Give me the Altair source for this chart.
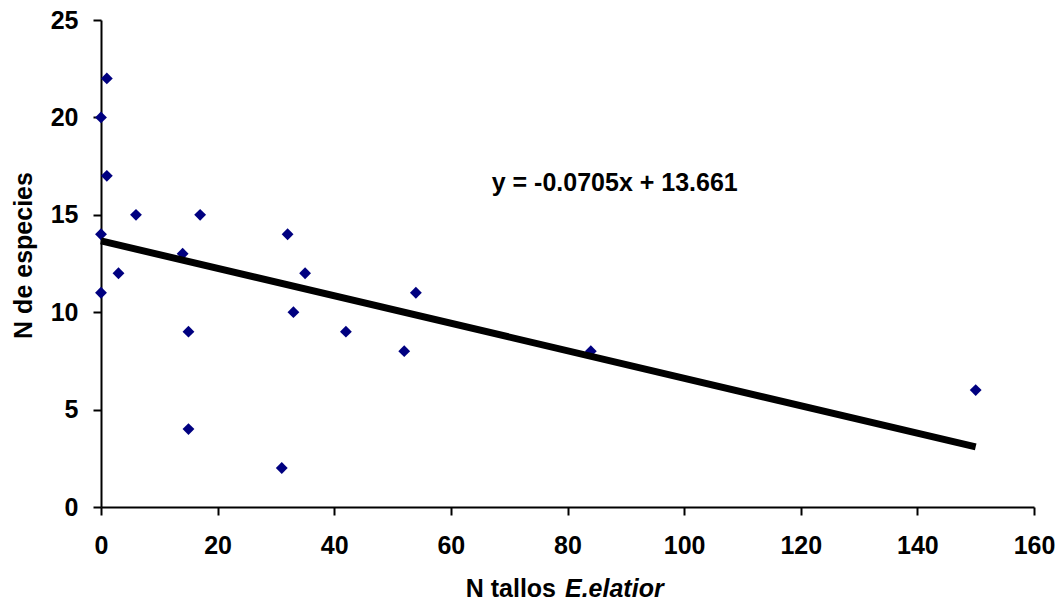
import altair as alt
import pandas as pd

# Data
tallos = [0, 1, 1, 0, 0, 3, 6, 14, 15, 15, 17, 31, 32, 33, 35, 42, 52, 54, 84, 150]
especies = [20, 22, 17, 14, 11, 12, 15, 13, 9, 4, 15, 2, 14, 10, 12, 9, 8, 11, 8, 6]
slope = -0.0705
intercept = 13.661
fit_extent = [0, 150]
eq_label = "y = -0.0705x + 13.661"
eq_anchor = [67.0, 16.2]
x_ticks = [0, 20, 40, 60, 80, 100, 120, 140, 160]
y_ticks = [0, 5, 10, 15, 20, 25]

FONT = "Liberation Sans"
W, H = 933, 487

pts = pd.DataFrame({"x": tallos, "y": especies})
fit = pd.DataFrame({"x": fit_extent, "y": [intercept + slope * v for v in fit_extent]})
eq = pd.DataFrame({"x": [eq_anchor[0]], "y": [eq_anchor[1]], "t": [eq_label]})
one = pd.DataFrame({"a": [0]})

xs = alt.Scale(domain=[0, 160], nice=False, zero=False)
ys = alt.Scale(domain=[0, 25], nice=False)

xaxis = alt.Axis(values=x_ticks, title=None, grid=False, domainColor="black", domainWidth=2,
                 tickColor="black", tickWidth=2, tickSize=8, labelPadding=18,
                 labelFont=FONT, labelFontSize=25, labelFontWeight="bold", labelColor="black",
                 labelFlush=False, labelOverlap=False)
yaxis = alt.Axis(values=y_ticks, title="N de especies", grid=False, domainColor="black", domainWidth=2,
                 tickColor="black", tickWidth=2, tickSize=8, labelPadding=15,
                 labelFont=FONT, labelFontSize=25, labelFontWeight="bold", labelColor="black",
                 labelFlush=False, labelOverlap=False,
                 titleFont=FONT, titleFontSize=25, titleFontWeight="bold", titleColor="black",
                 titleX=-65, titleY=235)

X = alt.X("x:Q", scale=xs, axis=xaxis)
Y = alt.Y("y:Q", scale=ys, axis=yaxis)

points = alt.Chart(pts).mark_point(shape="diamond", filled=True, size=140, color="#000080", opacity=1).encode(x=X, y=Y)
line = alt.Chart(fit).mark_line(color="black", strokeWidth=7).encode(x=X, y=Y)
eqtext = alt.Chart(eq).mark_text(align="left", baseline="alphabetic", font=FONT, fontSize=25,
                                 fontWeight="bold", color="black").encode(x=X, y=Y, text="t:N")
t1 = alt.Chart(one).mark_text(text="N tallos", align="right", baseline="alphabetic", font=FONT,
                              fontSize=25, fontWeight="bold", color="black").encode(
    x=alt.value(455), y=alt.value(577))
t2 = alt.Chart(one).mark_text(text="E.elatior", align="left", baseline="alphabetic", font=FONT,
                              fontSize=25, fontWeight="bold", fontStyle="italic", color="black").encode(
    x=alt.value(464), y=alt.value(577))

chart = alt.layer(points, line, eqtext, t1, t2).properties(
    width=W, height=H,
    padding={"left": 101, "top": 20, "right": 28, "bottom": 96},
    autosize=alt.AutoSizeParams(type="none"),
    background="white",
).configure_view(stroke=None)

chart.save("out.html", embed_options={"renderer": "svg", "actions": False})
